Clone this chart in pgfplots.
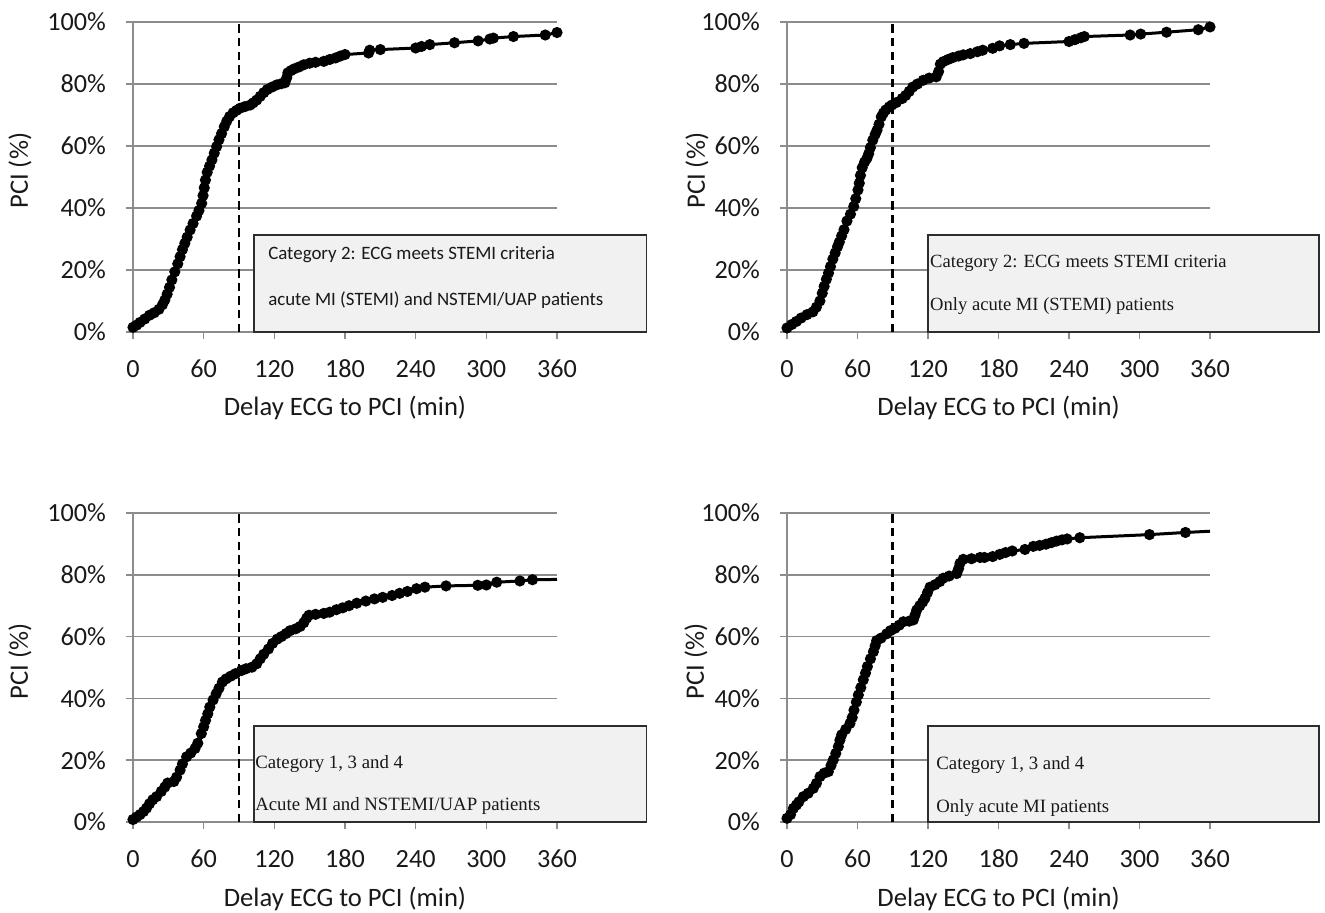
\documentclass[border=0pt]{standalone}
\usepackage{fontspec}
\setmainfont{Carlito}
\newfontfamily\timesf{Liberation Serif}
\usepackage{pgfplots}
\usepackage{pgfplotstable}
\pgfplotsset{compat=1.18}
\definecolor{gridgray}{RGB}{140,140,140}
\definecolor{boxfill}{RGB}{241,241,241}
\definecolor{boxline}{RGB}{45,45,45}
\definecolor{txt}{RGB}{25,25,25}

\pgfplotstableread{
x y
0 1.5
3 2.2
6 3.1
10 4.2
14 5.4
18 6.2
22 7.3
25 8.8
27 10.3
29 12.2
31 14.4
33 16.8
35.5 19.4
38 22
40 24.3
42 26.6
44 28.6
46 30.6
48.5 32.9
51 35
54 37.4
56 39.2
58.3 41.5
59.5 44
60.5 46.5
61.5 49
63 51.5
65 53.5
67 55.5
69 57.7
71 59.8
73 62
75.2 64
77.5 66.2
79.6 68
82 69.5
85 70.7
88 71.5
91 72.2
95 72.7
99.5 73.2
102 73.9
105 74.8
108 76
111 77.2
114 78.2
118 79
122 79.7
126 80.1
129 80.4
130.5 82
131.5 83.6
134 84.3
137 84.9
141 85.5
145 86.2
150 86.7
155 87
162 87.3
167 87.9
172 88.4
176 89
180 89.5
200 90
201 90.9
210 91.1
240 91.6
245 92.1
252 92.7
273 93.3
293 93.9
303 94.5
306 94.8
323 95.3
350 95.8
360 96.6
}\dataA

\pgfplotstableread{
x y
0 1.3
4 2.4
8 3.4
12 4.5
17 5.6
22 6.5
25 8
28 10
30 12.5
31.6 14.7
33.5 17
35.3 19
37 21.1
39 23.5
41 25.5
43 27.5
44.5 29
46.5 31
48.5 33
51 35.8
54 38
56.8 40.5
58.5 43
60.4 45.8
61.5 48
62.5 50.5
64 53
66 54.8
68 56
69.5 57.5
71 59.5
73 61.9
75 63.7
76.6 65.1
78.3 67
80.2 69.4
82 70.6
84 71.6
87 72.6
89.2 73.2
93 74
98 75.3
101 76.3
104 77.6
107 79
111 80
116 81.2
121 81.9
127 82.3
129 84
130.5 86.4
133 87.2
137 87.9
141 88.5
146 89
150 89.4
156 89.8
162 90.4
166.5 90.9
175 91.5
180.9 92.3
190 92.7
201.7 93.1
240 93.7
245 94.3
250 94.9
253 95.3
292 95.8
301 96.1
323 96.7
350 97.5
360 98.4
}\dataB

\pgfplotstableread{
x y
0 0.8
3 1.6
6 2.4
9 3.4
11.5 4.5
14 5.9
16.8 7.2
20 8.2
24 9.9
27 11.3
29.4 12.6
34.7 13.1
37 14.5
40 16.8
42 18.8
45.5 21.1
49 22.3
52.7 23.8
55 25.5
58 28.6
60 30.8
61.6 32.9
63.5 35
65.2 37.2
68 39.5
70.6 41.5
73 43.3
75.9 45.3
79 46.3
83 47.2
87 48
92 49
96 49.6
101 50.1
105 51.2
108 52.8
111 54.3
115 56
118.5 57.8
122.5 59.2
126 60
130 61
133.3 61.9
138 62.5
142 63.3
145 64.5
147.5 66
149.4 66.9
155 67.2
162 67.5
167 67.9
172.7 68.7
178 69.3
183.4 70
190 70.8
197.7 71.5
205 72.2
212 72.7
220 73.3
226.4 74
233 74.6
240.7 75.5
247.9 76
265.8 76.4
292.7 76.6
300 76.7
308.8 77.6
328.5 78
339.2 78.4
}\dataC

\pgfplotstableread{
x y
0 1.2
3 2.4
5.4 4.4
8 5.5
10.1 6.5
13.9 8.2
18 9.3
22.4 10.9
25 12.5
28.1 14.7
31.6 15.8
35.2 16.3
37.5 18.3
39.4 20.1
41.5 22.2
43.7 24.4
45 26.5
46.5 28.2
50 30
53.6 31.9
55.5 33.8
57 36.2
59 38.8
60.7 41.1
62.8 43.5
64.9 46
66.8 48.2
68.4 50.3
71 52.8
73.5 55.1
75 57
76.3 58.7
80 59.5
84.8 60.9
88 61.9
91.9 62.7
95.5 63.7
99 64.8
104 65
107.5 65.4
109 67
110.4 68.6
113 70
115.5 71.2
117.4 72.4
119.5 74.2
121.7 76
126 76.8
130 77.8
133 78.9
138 79.6
144.4 80.4
146 82
147.2 83.7
150 85
157 85.2
164.3 85.6
168 85.6
175 85.9
181 86.6
186 87.2
191.7 87.7
202.5 88.2
209.6 89.2
215 89.5
220.4 89.9
225 90.4
229.4 90.9
234 91.3
238.4 91.6
249.2 92
308.5 93
339.1 93.7
}\dataD

\tikzset{
  dash90/.style={black, line width=1.3pt, dash pattern=on 4.2pt off 2.6pt},
  infobox/.style={fill=boxfill, draw=boxline, line width=0.75pt},
}
\pgfplotsset{
  panel/.style={
    scale only axis,
    width=212pt, height=155pt,
    xmin=0, xmax=360, ymin=0, ymax=100,
    axis x line=bottom, axis y line=left,
    axis line style={-, gridgray, line width=0.75pt},
    xtick={0,60,...,360}, ytick={0,20,...,100},
    tick align=outside, major tick length=3.5pt,
    tick style={gridgray, line width=0.75pt},
    ymajorgrids, grid style={gridgray, line width=0.75pt},
    /pgf/number format/assume math mode=true,
    yticklabel={\pgfmathprintnumber{\tick}\%},
    tick label style={font=\fontsize{13.1}{15}\selectfont, text=txt},
    xticklabel style={anchor=north, text height=8.3pt, text depth=0pt, yshift=-7.2pt},
    yticklabel style={anchor=east, xshift=-6.5pt},
    label style={font=\fontsize{13.3}{15}\selectfont, text=txt},
    xlabel={Delay ECG to PCI (min)},
    ylabel={PCI (\%)},
    xlabel style={at={(axis description cs:0.5,-0.245)}, anchor=center},
    clip=false,
  },
  curve/.style={black, line width=1.5pt, mark=*, mark size=2pt, mark options={solid, fill=black}},
}

\begin{document}
\begin{tikzpicture}
\useasboundingbox (0,0) rectangle (662.5pt,456.5pt);

% top left
\begin{axis}[panel, at={(66.5pt,290.5pt)}, anchor=south west,
  ylabel style={at={(axis description cs:-0.2665,0.52)}, anchor=center}]
\draw[dash90] (axis cs:90,0) -- (axis cs:90,100);
\draw[infobox] (axis cs:102.9,0) rectangle (axis cs:435.8,31.3);
\node[anchor=west, inner sep=0pt, text=txt, font=\fontsize{9.45}{11}\selectfont] at (axis cs:114.5,24.8) {Category 2: ECG meets STEMI criteria};
\node[anchor=west, inner sep=0pt, text=txt, font=\fontsize{9.45}{11}\selectfont] at (axis cs:114.5,10.3) {acute MI (STEMI) and NSTEMI/UAP patients};
\addplot[curve] table[x=x,y=y] {\dataA};
\end{axis}

% top right
\begin{axis}[panel, at={(393.5pt,290.5pt)}, anchor=south west, width=211.5pt,
  ylabel style={at={(axis description cs:-0.213,0.52)}, anchor=center}]
\draw[dash90] (axis cs:90,0) -- (axis cs:90,100);
\draw[infobox] (axis cs:120,0) rectangle (axis cs:452.8,31.3);
\node[anchor=west, inner sep=0pt, text=txt, font=\timesf\fontsize{9.3}{11}\selectfont] at (axis cs:121.5,22.3) {Category 2: ECG meets STEMI criteria};
\node[anchor=west, inner sep=0pt, text=txt, font=\timesf\fontsize{9.3}{11}\selectfont] at (axis cs:121.5,8.4) {Only acute MI (STEMI) patients};
\addplot[curve] table[x=x,y=y] {\dataB};
\end{axis}

% bottom left
\begin{axis}[panel, at={(66.5pt,45.5pt)}, anchor=south west, height=154.5pt,
  ylabel style={at={(axis description cs:-0.2665,0.52)}, anchor=center},
  xlabel style={at={(axis description cs:0.5,-0.248)}, anchor=center}]
\draw[dash90] (axis cs:90,0) -- (axis cs:90,100);
\draw[infobox] (axis cs:102.9,0) rectangle (axis cs:435.8,31);
\node[anchor=west, inner sep=0pt, text=txt, font=\timesf\fontsize{9.4}{11}\selectfont] at (axis cs:103.5,18.8) {Category 1, 3 and 4};
\node[anchor=west, inner sep=0pt, text=txt, font=\timesf\fontsize{9.4}{11}\selectfont] at (axis cs:103.5,5.2) {Acute MI and NSTEMI/UAP patients};
\addplot[curve] table[x=x,y=y] {\dataC};
\addplot[black, line width=1.5pt, mark=none] coordinates {(339.2,78.4) (360,78.5)};
\end{axis}

% bottom right
\begin{axis}[panel, at={(393.5pt,45.5pt)}, anchor=south west, width=211.5pt, height=154.5pt,
  ylabel style={at={(axis description cs:-0.215,0.52)}, anchor=center},
  xlabel style={at={(axis description cs:0.5,-0.248)}, anchor=center}]
\draw[dash90] (axis cs:90,0) -- (axis cs:90,100);
\draw[infobox] (axis cs:120,0) rectangle (axis cs:452.8,31);
\node[anchor=west, inner sep=0pt, text=txt, font=\timesf\fontsize{9.4}{11}\selectfont] at (axis cs:126.8,18.4) {Category 1, 3 and 4};
\node[anchor=west, inner sep=0pt, text=txt, font=\timesf\fontsize{9.4}{11}\selectfont] at (axis cs:126.8,4.5) {Only acute MI patients};
\addplot[curve] table[x=x,y=y] {\dataD};
\addplot[black, line width=1.5pt, mark=none] coordinates {(339.1,93.7) (360,94.1)};
\end{axis}
\end{tikzpicture}
\end{document}
